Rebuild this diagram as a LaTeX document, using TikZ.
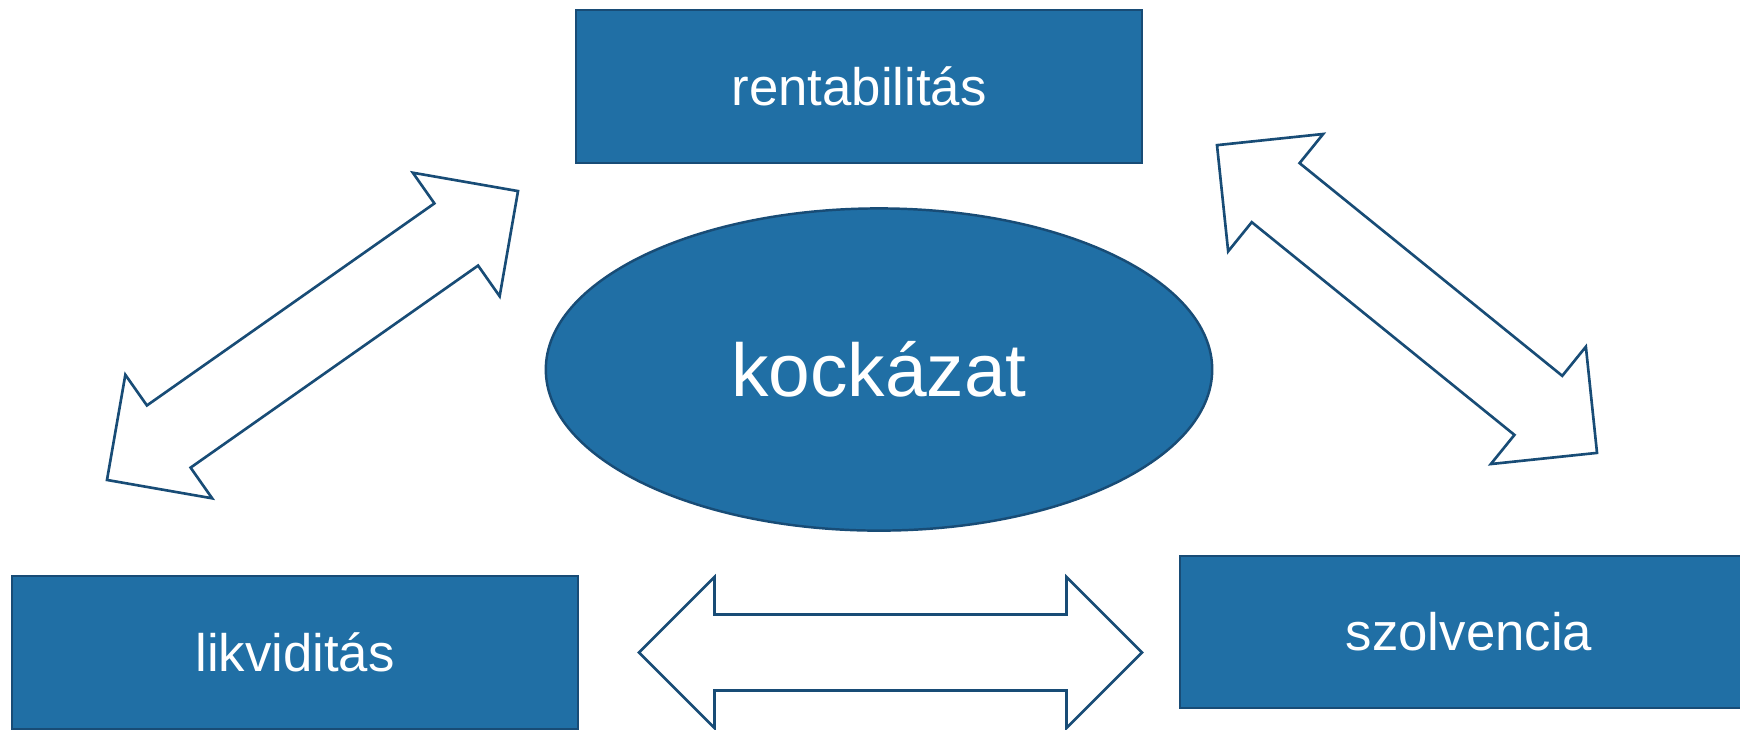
\documentclass[tikz,border=0pt]{standalone}
\usepackage{fontspec}
\setmainfont{Liberation Sans}
\usetikzlibrary{shapes.geometric}
\definecolor{boxblue}{RGB}{32,111,165}
\definecolor{edgeblue}{RGB}{24,76,118}
\tikzset{
  box/.style={draw=edgeblue,line width=0.7pt,fill=boxblue,text=white,inner sep=0pt,
    minimum width=5.66cm,minimum height=1.53cm,font=\fontsize{15}{18}\selectfont},
  arrowline/.style={draw=edgeblue,line width=0.75pt,fill=white,line join=miter},
}
% block double arrow: centre x, centre y, angle, half length
\newcommand\dblarrow[4]{%
\begin{scope}[shift={(#1,#2)},rotate=#3]
\draw[arrowline](-#4,0)--(-#4+75.5,75.5)--(-#4+75.5,38)--(#4-75.5,38)--(#4-75.5,75.5)
  --(#4,0)--(#4-75.5,-75.5)--(#4-75.5,-38)--(-#4+75.5,-38)--(-#4+75.5,-75.5)--cycle;
\end{scope}}
\begin{document}
\begin{tikzpicture}[x=0.01cm,y=-0.01cm]
\clip(0,0) rectangle (1740,729);
\node[box](rent) at (859,86.5){rentabilitás};
\node[box](likv) at (295,652.5){likviditás};
\node[box,minimum width=5.78cm,minimum height=1.52cm](szolv) at (1469,632){szolvencia};
\node[box,ellipse,minimum width=6.66cm,minimum height=3.22cm,font=\fontsize{21.3}{25}\selectfont](kock) at (879,369.5){kockázat};
\dblarrow{312.5}{335.5}{35.1}{251.2}
\dblarrow{1407}{299}{-39}{244.5}
\dblarrow{890.5}{652.5}{0}{251.5}
\end{tikzpicture}
\end{document}
